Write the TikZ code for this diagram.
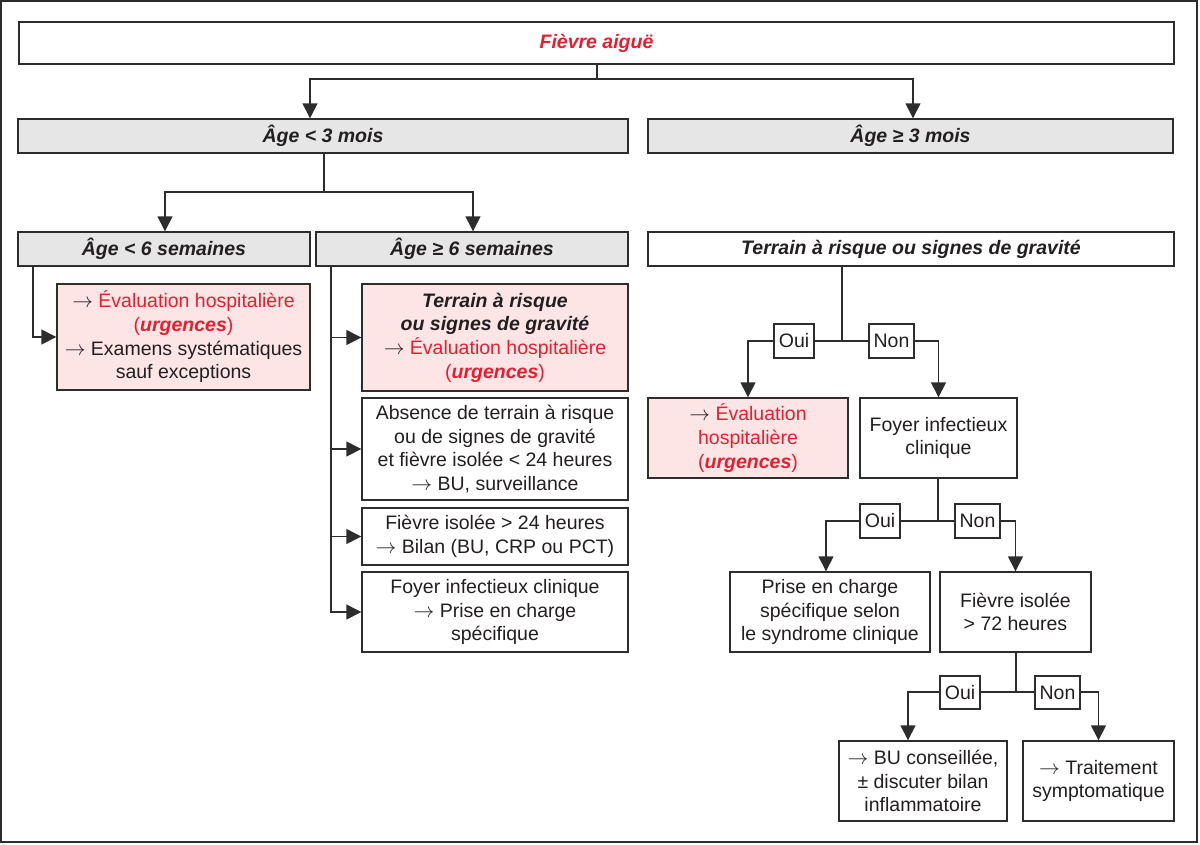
\documentclass[tikz,border=0pt]{standalone}
\usepackage{fontspec}
\setmainfont{Liberation Sans}
\usetikzlibrary{arrows.meta}
\definecolor{rouge}{RGB}{226,32,48}
\definecolor{rose}{RGB}{253,229,230}
\definecolor{gris}{RGB}{230,230,231}
\definecolor{ligne}{RGB}{45,45,45}
\definecolor{encre}{RGB}{35,31,32}
\newcommand{\bfit}[1]{\textbf{\textit{#1}}}
\newcommand{\fl}{\ensuremath{\rightarrow}}
\begin{document}
\begin{tikzpicture}[x=1pt,y=-1pt,
  font=\fontsize{19.5}{23.7}\selectfont,
  box/.style={draw=ligne, line width=1.4pt, inner sep=0pt, align=center, text=encre, fill=white},
  grisbox/.style={box, fill=gris},
  rosebox/.style={box, fill=rose},
  lbl/.style={box, inner sep=0pt},
  ln/.style={draw=ligne, line width=1.4pt},
  arr/.style={ln, -{Triangle[length=15pt,width=15pt]}}]
\useasboundingbox (0,0) rectangle (1200,844);
\draw[ln] (1,1) rectangle (1197,842);

% boxes
\node[box, minimum width=1155pt, minimum height=42pt] (fievre) at (596.5,43) {\textcolor{rouge}{\bfit{Fièvre aiguë}}};
\node[grisbox, minimum width=610pt, minimum height=34pt] (age3) at (323,136) {\bfit{Âge < 3 mois}};
\node[grisbox, minimum width=525pt, minimum height=34pt] (ageg3) at (910.5,136) {\bfit{Âge ≥ 3 mois}};
\node[grisbox, minimum width=292pt, minimum height=34pt] (age6) at (164,249) {\bfit{Âge < 6 semaines}};
\node[grisbox, minimum width=312pt, minimum height=34pt] (ageg6) at (472,249) {\bfit{Âge ≥ 6 semaines}};
\node[box, minimum width=526pt, minimum height=34pt] (terr) at (911,249) {\bfit{Terrain à risque ou signes de gravité}};

\node[rosebox, minimum width=253pt, minimum height=106pt] (pink1) at (183.5,337) {\fl{} \textcolor{rouge}{Évaluation hospitalière}\\ \textcolor{rouge}{(\bfit{urgences})}\\ \fl{} Examens systématiques\\ sauf exceptions};
\node[rosebox, minimum width=266pt, minimum height=107pt] (pink2) at (495,337.5) {\bfit{Terrain à risque}\\ \bfit{ou signes de gravité}\\ \fl{} \textcolor{rouge}{Évaluation hospitalière}\\ \textcolor{rouge}{(\bfit{urgences})}};
\node[box, minimum width=266pt, minimum height=102pt] (abs) at (495,449) {Absence de terrain à risque\\ ou de signes de gravité\\ et fièvre isolée < 24 heures\\ \fl{} BU, surveillance};
\node[box, minimum width=266pt, minimum height=57pt] (fi24) at (495,536.5) {Fièvre isolée > 24 heures\\ \fl{} Bilan (BU, CRP ou PCT)};
\node[box, minimum width=266pt, minimum height=80pt] (foyer1) at (495,612) {Foyer infectieux clinique\\ \fl{} Prise en charge\\ spécifique};

\node[rosebox, minimum width=200pt, minimum height=80pt] (pink3) at (748,438) {\fl{} \textcolor{rouge}{Évaluation}\\ \textcolor{rouge}{hospitalière}\\ \textcolor{rouge}{(\bfit{urgences})}};
\node[box, minimum width=157pt, minimum height=80pt] (foyer2) at (938.5,438) {Foyer infectieux\\ clinique};
\node[box, minimum width=200pt, minimum height=80pt] (prise) at (830,612) {Prise en charge\\ spécifique selon\\ le syndrome clinique};
\node[box, minimum width=151pt, minimum height=80pt] (fi72) at (1015.5,612) {Fièvre isolée\\ > 72 heures};
\node[box, minimum width=168pt, minimum height=80pt] (bu) at (923,781) {\fl{} BU conseillée,\\ ± discuter bilan\\ inflammatoire};
\node[box, minimum width=151pt, minimum height=80pt] (trait) at (1098.5,781) {\fl{} Traitement\\ symptomatique};

% connectors
\coordinate (j1) at (597,79);
\draw[ln] (fievre.south -| j1) -- (j1);
\draw[arr] (j1) -| ([xshift=-13pt]age3.north);
\draw[arr] (j1) -| ([xshift=2.5pt]ageg3.north);

\coordinate (j2) at (324,192);
\draw[ln] (age3.south -| j2) -- (j2);
\draw[arr] (j2) -| ([xshift=1pt]age6.north);
\draw[arr] (j2) -| ([xshift=1pt]ageg6.north);

\coordinate (v1) at (33,266);
\draw[arr] (age6.south -| v1) |- (pink1.west);
\coordinate (v2) at (331,266);
\draw[arr] (ageg6.south -| v2) |- (foyer1.west);
\foreach \n in {pink2,abs,fi24} \draw[arr] (\n.west -| v2) -- (\n.west);

\coordinate (j3) at (842,341);
\draw[ln] (terr.south -| j3) -- (j3);
\draw[arr] (j3) -| (pink3.north);
\draw[arr] (j3) -| (foyer2.north);
\node[lbl, minimum width=40pt, minimum height=34pt] (oui1) at (794,341) {Oui};
\node[lbl, minimum width=45pt, minimum height=34pt] (non1) at (891.5,341) {Non};

\coordinate (j4) at (938,521);
\draw[ln] (foyer2.south -| j4) -- (j4);
\draw[arr] (j4) -| ([xshift=-4pt]prise.north);
\draw[arr] (j4) -| (fi72.north);
\node[lbl, minimum width=40pt, minimum height=34pt] (oui2) at (880,521) {Oui};
\node[lbl, minimum width=45pt, minimum height=34pt] (non2) at (977.5,521) {Non};

\coordinate (j5) at (1016,692);
\draw[ln] (fi72.south -| j5) -- (j5);
\draw[arr] (j5) -| ([xshift=-15pt]bu.north);
\draw[arr] (j5) -| (trait.north);
\node[lbl, minimum width=40pt, minimum height=33pt] (oui3) at (960,692.5) {Oui};
\node[lbl, minimum width=45pt, minimum height=33pt] (non3) at (1057.5,692.5) {Non};
\end{tikzpicture}
\end{document}
